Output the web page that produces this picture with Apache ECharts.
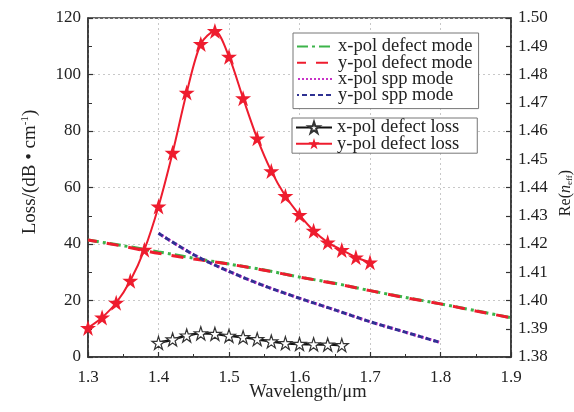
<!DOCTYPE html>
<html><head><meta charset="utf-8">
<script src="https://cdn.jsdelivr.net/npm/echarts@6/dist/echarts.min.js"></script>
<style>html,body{margin:0;padding:0;background:#fff}#c{width:574px;height:412px}</style>
</head><body><div id="c"></div>
<script>
// Wavelengths (µm)
var lossWl = [1.30,1.32,1.34,1.36,1.38,1.40,1.42,1.44,1.46,1.48,1.50,1.52,1.54,1.56,1.58,1.60,1.62,1.64,1.66,1.68,1.70];
var yPolLoss = [10.3,14.0,19.2,27.0,38.0,53.3,72.3,93.6,110.8,115.4,106.3,91.6,77.4,65.8,57.0,50.3,44.7,40.6,37.9,35.3,33.5];
var xLossWl = [1.40,1.42,1.44,1.46,1.48,1.50,1.52,1.54,1.56,1.58,1.60,1.62,1.64,1.66];
var xPolLoss = [5.0,6.2,7.6,8.4,8.2,7.5,7.0,6.3,5.5,4.9,4.6,4.5,4.4,4.2];
var defectWl = [1.30,1.35,1.40,1.45,1.50,1.55,1.60,1.65,1.70,1.75,1.80,1.85,1.90];
var xPolDefect = [1.4214,1.4194,1.4172,1.4150,1.4129,1.4108,1.4083,1.4061,1.4035,1.4011,1.3988,1.3964,1.3939];
var yPolDefect = [1.4214,1.4192,1.4167,1.4147,1.4129,1.4107,1.4083,1.4060,1.4035,1.4010,1.3988,1.3963,1.3939];
var sppWl = [1.40,1.45,1.50,1.55,1.60,1.65,1.70,1.75,1.80];
var xPolSpp = [1.4238,1.4162,1.4103,1.4052,1.4008,1.3967,1.3925,1.3888,1.3851];
var yPolSpp = [1.4238,1.4162,1.4103,1.4052,1.4008,1.3967,1.3925,1.3888,1.3851];
var names = ['x-pol defect mode','y-pol defect mode','x-pol spp mode','y-pol spp mode','x-pol defect loss','y-pol defect loss'];

function pairs(xs, ys){ return xs.map(function(x,i){ return [x, ys[i]]; }); }

var STAR = 'path://M50,2 L61.2,36.5 L97.6,36.5 L68.2,57.9 L79.4,92.5 L50,71.1 L20.6,92.5 L31.8,57.9 L2.4,36.5 L38.8,36.5 Z';
var FONT = 'Liberation Serif';
var txt = '#222';
var noSym = {opacity:0};
var chart = echarts.init(document.getElementById('c'), null, {renderer:'canvas'});
chart.setOption({
  animation:false,
  backgroundColor:'#fff',
  grid:{left:88, right:63, top:18, bottom:55, show:true, borderColor:'#333', borderWidth:1.5, backgroundColor:'transparent'},
  xAxis:{type:'value', min:1.3, max:1.9, interval:0.1,
    axisLine:{show:true, lineStyle:{color:'#333', width:1.5}},
    axisTick:{inside:true, length:5, lineStyle:{color:'#333', width:1.2}},
    minorTick:{show:true, splitNumber:2, length:3, lineStyle:{color:'#333'}},
    axisLabel:{margin:12, fontFamily:FONT, fontSize:17, color:txt, formatter:function(v){return v.toFixed(1);}},
    splitLine:{show:true, lineStyle:{color:'#c8c8c8', type:[2,3], width:1}}
  },
  yAxis:[
    {type:'value', min:0, max:120, interval:20, position:'left',
      axisLine:{show:true, lineStyle:{color:'#333', width:1.5}},
      axisTick:{inside:true, length:5, lineStyle:{color:'#333', width:1.2}},
      minorTick:{show:true, splitNumber:2, length:4, lineStyle:{color:'#333'}},
      axisLabel:{margin:7, fontFamily:FONT, fontSize:17, color:txt},
      splitLine:{show:true, lineStyle:{color:'#c8c8c8', type:[2,3], width:1}}
    },
    {type:'value', min:1.38, max:1.50, interval:0.01, position:'right',
      axisLine:{show:true, lineStyle:{color:'#333', width:1.5}},
      axisTick:{inside:true, length:5, lineStyle:{color:'#333', width:1.2}},
      axisLabel:{margin:7, fontFamily:FONT, fontSize:17, color:txt, formatter:function(v){return v.toFixed(2);}},
      splitLine:{show:false}
    }
  ],
  legend:[
    {data:names.slice(0,4).map(function(n){return {name:n, itemStyle:noSym};}), orient:'vertical', left:293, top:33, itemWidth:36, itemHeight:10, itemGap:-2.8,
      padding:[4,6,4,3], borderColor:'#777', borderWidth:1, backgroundColor:'#fff',
      textStyle:{fontFamily:FONT, fontSize:18.5, color:txt}},
    {data:names.slice(4), orient:'vertical', left:292, top:118, itemWidth:36, itemHeight:14, itemGap:-2.8,
      padding:[0,18,0,3], borderColor:'#777', borderWidth:1, backgroundColor:'#fff',
      textStyle:{fontFamily:FONT, fontSize:18.5, color:txt}}
  ],
  series:[
    {name:names[0], type:'line', yAxisIndex:1, data:pairs(defectWl,xPolDefect), symbol:'none', smooth:0.3,
      lineStyle:{color:'#3cb44a', width:3, type:[11,4,3,4]}, itemStyle:{color:'#3cb44a'}, z:2},
    {name:names[1], type:'line', yAxisIndex:1, data:pairs(defectWl,yPolDefect), symbol:'none', smooth:0.3,
      lineStyle:{color:'#ee1c2e', width:3, type:[12,10], dashOffset:3}, itemStyle:{color:'#ee1c2e'}, z:3},
    {name:names[2], type:'line', yAxisIndex:1, data:pairs(sppWl,xPolSpp), symbol:'none', smooth:0.3,
      lineStyle:{color:'#c832c8', width:3, type:[2,2]}, itemStyle:{color:'#c832c8'}, z:2},
    {name:names[3], type:'line', yAxisIndex:1, data:pairs(sppWl,yPolSpp), symbol:'none', smooth:0.3,
      lineStyle:{color:'#2e3192', width:3, type:[5,3]}, itemStyle:{color:'#2e3192'}, z:3},
    {name:names[4], type:'line', yAxisIndex:0, data:pairs(xLossWl,xPolLoss), symbol:STAR, symbolSize:13, smooth:0.3,
      lineStyle:{color:'#111', width:2.5}, itemStyle:{color:'#fff', borderColor:'#333', borderWidth:1.2}, z:4},
    {name:names[5], type:'line', yAxisIndex:0, data:pairs(lossWl,yPolLoss), symbol:STAR, symbolSize:16, smooth:0.3,
      lineStyle:{color:'#ee1c2e', width:2}, itemStyle:{color:'#ee1c2e'}, z:5}
  ],
  graphic:[
    {type:'text', x:30, y:172, rotation:Math.PI/2, style:{text:'{a|Loss/(dB • cm}{s|-1}{a|)}', textAlign:'center', textVerticalAlign:'middle',
      rich:{a:{fontFamily:FONT, fontSize:19, fill:txt, lineHeight:20}, s:{fontFamily:FONT, fontSize:11, fill:txt, lineHeight:20, padding:[0,0,10,0]}}}},
    {type:'text', x:566, y:193, rotation:Math.PI/2, style:{text:'{a|Re(}{i|n}{s|eff}{a|)}', textAlign:'center', textVerticalAlign:'middle',
      rich:{a:{fontFamily:FONT, fontSize:16, fill:txt, lineHeight:18}, i:{fontFamily:FONT, fontSize:16, fontStyle:'italic', fill:txt, lineHeight:18}, s:{fontFamily:FONT, fontSize:9, fill:txt, lineHeight:18, padding:[7,0,0,0]}}}},
    {type:'text', x:308, y:392, style:{text:'Wavelength/μm', textAlign:'center', textVerticalAlign:'middle', fontFamily:FONT, fontSize:18.5, fill:txt}}
  ]
});
</script></body></html>
